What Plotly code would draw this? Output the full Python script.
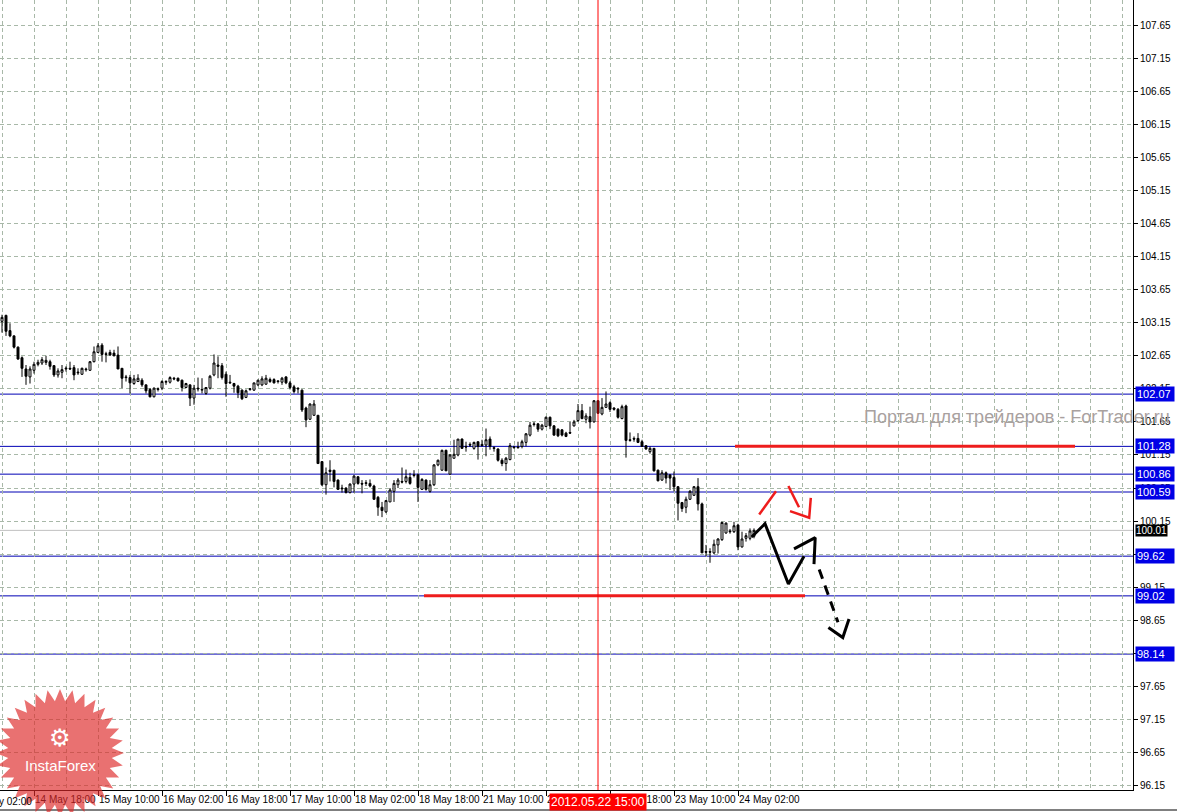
import numpy as np
import plotly.graph_objects as go

# hourly candles, index 0 = 14 May 10:00
open_ = [103.17, 103.26, 103.03, 102.95, 102.78, 102.62, 102.45, 102.33, 102.43, 102.52,
         102.54, 102.55, 102.56, 102.50, 102.36, 102.40, 102.45, 102.46, 102.47, 102.39,
         102.37, 102.45, 102.43, 102.56, 102.70, 102.81, 102.68, 102.70, 102.69, 102.66,
         102.46, 102.33, 102.32, 102.23, 102.26, 102.28, 102.21, 102.14, 102.03, 102.14,
         102.16, 102.25, 102.25, 102.31, 102.31, 102.28, 102.17, 102.21, 102.01, 102.16,
         102.13, 102.08, 102.16, 102.36, 102.51, 102.50, 102.37, 102.25, 102.23, 102.19,
         102.13, 102.02, 102.14, 102.13, 102.21, 102.21, 102.22, 102.29, 102.29, 102.27,
         102.25, 102.33, 102.24, 102.18, 102.16, 102.13, 101.86, 101.69, 101.75, 101.75,
         101.05, 100.70, 100.92, 100.92, 100.77, 100.65, 100.65, 100.58, 100.71, 100.82,
         100.72, 100.73, 100.72, 100.68, 100.51, 100.36, 100.29, 100.44, 100.60, 100.70,
         100.75, 100.75, 100.81, 100.85, 100.85, 100.63, 100.77, 100.60, 100.70, 101.00,
         100.92, 101.22, 100.86, 101.10, 101.15, 101.39, 101.28, 101.31, 101.25, 101.35,
         101.31, 101.30, 101.39, 101.26, 101.24, 101.07, 101.02, 101.08, 101.27, 101.27,
         101.28, 101.34, 101.45, 101.62, 101.62, 101.54, 101.58, 101.72, 101.59, 101.54,
         101.53, 101.48, 101.49, 101.59, 101.67, 101.82, 101.69, 101.73, 101.65, 101.97,
         101.77, 101.87, 101.94, 101.86, 101.84, 101.70, 101.89, 101.38, 101.40, 101.40,
         101.35, 101.29, 101.20, 101.25, 100.92, 100.77, 100.88, 100.85, 100.81, 100.67,
         100.43, 100.36, 100.48, 100.54, 100.67, 100.41, 99.69, 99.69, 99.67, 99.79,
         99.87, 99.97, 100.00, 99.99, 100.09, 99.76, 99.89, 99.89, 99.92]
high = [103.27, 103.27, 103.14, 102.96, 102.79, 102.64, 102.51, 102.49, 102.56, 102.59,
        102.63, 102.65, 102.59, 102.51, 102.46, 102.51, 102.49, 102.56, 102.51, 102.46,
        102.47, 102.47, 102.57, 102.79, 102.84, 102.84, 102.71, 102.74, 102.74, 102.79,
        102.46, 102.36, 102.36, 102.36, 102.37, 102.31, 102.21, 102.16, 102.17, 102.17,
        102.28, 102.28, 102.34, 102.33, 102.32, 102.29, 102.24, 102.21, 102.21, 102.32,
        102.31, 102.17, 102.36, 102.67, 102.64, 102.54, 102.41, 102.36, 102.24, 102.21,
        102.14, 102.14, 102.16, 102.24, 102.29, 102.34, 102.36, 102.32, 102.31, 102.28,
        102.33, 102.34, 102.27, 102.21, 102.17, 102.14, 101.88, 101.93, 101.98, 101.75,
        101.05, 100.96, 101.07, 100.92, 100.78, 100.70, 100.66, 100.72, 100.85, 100.83,
        100.77, 100.77, 100.78, 100.70, 100.53, 100.44, 100.47, 100.65, 100.77, 100.80,
        100.96, 100.93, 100.88, 100.92, 100.87, 100.80, 100.78, 100.77, 101.01, 101.08,
        101.23, 101.23, 101.16, 101.38, 101.39, 101.40, 101.35, 101.34, 101.35, 101.35,
        101.38, 101.55, 101.43, 101.28, 101.25, 101.10, 101.12, 101.33, 101.29, 101.35,
        101.38, 101.48, 101.65, 101.65, 101.63, 101.62, 101.73, 101.73, 101.60, 101.55,
        101.54, 101.50, 101.65, 101.68, 101.92, 101.92, 101.78, 101.88, 101.98, 101.98,
        102.01, 102.11, 101.96, 101.87, 101.86, 101.91, 101.91, 101.49, 101.43, 101.48,
        101.38, 101.30, 101.28, 101.25, 100.93, 100.92, 100.90, 100.85, 100.90, 100.68,
        100.44, 100.52, 100.62, 100.68, 100.80, 100.43, 99.79, 99.74, 99.87, 99.89,
        100.14, 100.13, 100.03, 100.14, 100.11, 99.99, 99.97, 100.04, 100.04]
low = [103.00, 102.95, 102.93, 102.76, 102.59, 102.33, 102.21, 102.23, 102.38, 102.49,
       102.51, 102.51, 102.44, 102.33, 102.32, 102.31, 102.41, 102.44, 102.28, 102.36,
       102.36, 102.41, 102.42, 102.55, 102.69, 102.56, 102.55, 102.65, 102.64, 102.45,
       102.16, 102.26, 102.08, 102.21, 102.26, 102.18, 102.08, 102.02, 102.02, 102.11,
       102.13, 102.21, 102.23, 102.28, 102.26, 102.11, 102.16, 101.89, 101.91, 102.11,
       102.08, 102.06, 102.14, 102.34, 102.31, 102.29, 102.03, 102.23, 102.09, 102.01,
       101.98, 102.01, 102.12, 102.12, 102.19, 102.19, 102.21, 102.24, 102.23, 102.23,
       102.21, 102.22, 102.14, 102.08, 102.08, 101.80, 101.57, 101.68, 101.74, 101.02,
       100.68, 100.55, 100.75, 100.66, 100.62, 100.58, 100.57, 100.57, 100.58, 100.70,
       100.57, 100.68, 100.66, 100.47, 100.23, 100.21, 100.27, 100.44, 100.44, 100.65,
       100.72, 100.72, 100.70, 100.81, 100.44, 100.62, 100.61, 100.58, 100.68, 100.98,
       100.91, 100.91, 100.85, 101.10, 101.13, 101.24, 101.20, 101.27, 101.23, 101.08,
       101.28, 101.13, 101.23, 101.20, 101.05, 100.98, 100.91, 101.07, 101.25, 101.25,
       101.25, 101.28, 101.43, 101.58, 101.50, 101.52, 101.57, 101.54, 101.44, 101.42,
       101.43, 101.42, 101.48, 101.58, 101.65, 101.69, 101.63, 101.55, 101.64, 101.77,
       101.75, 101.86, 101.80, 101.82, 101.70, 101.69, 101.11, 101.35, 101.35, 101.33,
       101.27, 101.23, 101.17, 100.90, 100.75, 100.76, 100.72, 100.62, 100.60, 100.16,
       100.29, 100.27, 100.47, 100.53, 100.31, 99.67, 99.62, 99.52, 99.65, 99.66,
       99.85, 99.96, 99.96, 99.97, 99.71, 99.75, 99.84, 99.86, 99.89]
close = [103.23, 103.02, 102.95, 102.78, 102.60, 102.46, 102.34, 102.45, 102.52, 102.55,
         102.59, 102.58, 102.49, 102.36, 102.42, 102.44, 102.46, 102.45, 102.36, 102.40,
         102.46, 102.44, 102.56, 102.71, 102.80, 102.67, 102.67, 102.66, 102.65, 102.45,
         102.31, 102.32, 102.24, 102.30, 102.31, 102.21, 102.12, 102.03, 102.16, 102.15,
         102.26, 102.26, 102.32, 102.30, 102.27, 102.17, 102.23, 102.01, 102.16, 102.15,
         102.14, 102.17, 102.34, 102.54, 102.49, 102.32, 102.23, 102.24, 102.19, 102.09,
         102.00, 102.12, 102.15, 102.24, 102.28, 102.30, 102.31, 102.26, 102.24, 102.26,
         102.31, 102.24, 102.17, 102.11, 102.15, 101.83, 101.68, 101.92, 101.92, 101.02,
         100.70, 100.88, 100.90, 100.75, 100.63, 100.64, 100.58, 100.71, 100.83, 100.72,
         100.71, 100.72, 100.68, 100.48, 100.36, 100.31, 100.46, 100.62, 100.72, 100.77,
         100.74, 100.82, 100.72, 100.84, 100.66, 100.78, 100.63, 100.70, 101.00, 101.07,
         101.22, 100.91, 101.15, 101.16, 101.39, 101.25, 101.27, 101.30, 101.34, 101.28,
         101.29, 101.38, 101.28, 101.25, 101.07, 101.02, 101.10, 101.29, 101.26, 101.26,
         101.35, 101.47, 101.60, 101.61, 101.54, 101.60, 101.72, 101.59, 101.45, 101.44,
         101.45, 101.43, 101.48, 101.65, 101.82, 101.70, 101.74, 101.65, 101.97, 101.78,
         101.87, 101.92, 101.84, 101.84, 101.72, 101.88, 101.37, 101.37, 101.39, 101.34,
         101.28, 101.24, 101.25, 100.91, 100.76, 100.88, 100.80, 100.80, 100.67, 100.42,
         100.34, 100.48, 100.60, 100.67, 100.41, 99.67, 99.68, 99.68, 99.80, 99.88,
         100.13, 100.12, 99.99, 100.08, 99.76, 99.88, 99.93, 100.00, 100.01]
bars = list(range(len(close)))

tick_idx = [8, 24, 40, 56, 72, 88, 104, 120, 136, 152, 168, 184]
tick_text = ["14 May 18:00", "15 May 10:00", "16 May 02:00", "16 May 18:00",
             "17 May 10:00", "18 May 02:00", "18 May 18:00", "21 May 10:00",
             "22 May 02:00", "22 May 18:00", "23 May 10:00", "24 May 02:00"]
price_ticks = [96.15, 96.65, 97.15, 97.65, 98.15, 98.65, 99.15, 99.65, 100.15, 100.65,
               101.15, 101.65, 102.15, 102.65, 103.15, 103.65, 104.15, 104.65, 105.15,
               105.65, 106.15, 106.65, 107.15, 107.65]

levels = [102.07, 101.28, 100.86, 100.59, 99.62, 99.02, 98.14]
last_price = 100.01
cursor_bar = 149
cursor_label = "2012.05.22 15:00"

# hand drawn forecast lines (bar index, price)
red_top_x, red_top_y = [183.25, 268.25], [101.28, 101.28]
red_bot_x, red_bot_y = [105.5, 200.75], [99.02, 99.02]
red_up_x, red_up_y = [189.3, 193.5], [100.25, 100.60]
red_down_x, red_down_y = [196.6, 199.25], [100.68, 100.36]
red_head_x, red_head_y = [197.0, 201.8, 202.2], [100.30, 100.20, 100.50]
blk_path_x = [187.4, 190.75, 196.6, 200.5]
blk_path_y = [99.91, 100.11, 99.20, 99.62]
blk_head_x, blk_head_y = [198.0, 203.3, 203.0], [99.73, 99.90, 99.50]
blk_dash_x, blk_dash_y = [204.3, 209.0], [99.42, 98.62]
blk_head2_x, blk_head2_y = [206.6, 210.2, 211.75], [98.54, 98.39, 98.67]

PW, PH = 1133, 790
x_rng = [-0.5, 282.75]
y_rng = [96.085, 108.028]
grid_col = "#a8b8a8"

fig = go.Figure()

fig.add_trace(go.Candlestick(
    x=bars, open=open_, high=high, low=low, close=close,
    increasing=dict(line=dict(color="black", width=1), fillcolor="white"),
    decreasing=dict(line=dict(color="black", width=1), fillcolor="black"),
    whiskerwidth=0, hoverinfo="skip", showlegend=False
))

def seg(xs, ys, color, dash="solid", width=3):
    fig.add_trace(go.Scatter(x=xs, y=ys, mode="lines", showlegend=False, hoverinfo="skip",
                             line=dict(color=color, width=width, dash=dash)))

seg(red_top_x, red_top_y, "#ee1c1c")
seg(red_bot_x, red_bot_y, "#ee1c1c")
seg(red_up_x, red_up_y, "#ee1c1c", width=2.5)
seg(red_down_x, red_down_y, "#ee1c1c", width=2.5)
seg(red_head_x, red_head_y, "#ee1c1c", width=2.5)
seg(blk_path_x, blk_path_y, "black")
seg(blk_head_x, blk_head_y, "black")
seg(blk_dash_x, blk_dash_y, "black", dash="10px,7px")
seg(blk_head2_x, blk_head2_y, "black")

shapes = []
for lv in levels:
    shapes.append(dict(type="line", xref="paper", x0=0, x1=1, yref="y", y0=lv, y1=lv,
                       line=dict(color="#0000b4", width=1), layer="below"))
shapes.append(dict(type="line", xref="paper", x0=0, x1=1, yref="y", y0=last_price, y1=last_price,
                   line=dict(color="#c0c0c0", width=1), layer="below"))
shapes.append(dict(type="line", xref="x", x0=cursor_bar, x1=cursor_bar, yref="paper", y0=0, y1=1,
                   line=dict(color="red", width=1)))
shapes.append(dict(type="line", xref="paper", x0=0, x1=1177 / PW, yref="paper",
                   y0=-20 / PH, y1=-20 / PH, line=dict(color="black", width=1)))

# InstaForex starburst logo (pixel geometry -> paper)
cx, cy, r_out, r_in, n = 60, 753, 64, 52, 32
ang = np.linspace(0, 2 * np.pi, 2 * n, endpoint=False) - np.pi / 2
rad = np.where(np.arange(2 * n) % 2 == 0, r_out, r_in)
px = cx + rad * np.cos(ang)
py = cy + rad * np.sin(ang)
path = "M " + " L ".join(f"{a / PW:.5f},{1 - b / PH:.5f}" for a, b in zip(px, py)) + " Z"
shapes.append(dict(type="path", xref="paper", yref="paper", path=path,
                   fillcolor="rgba(222,40,40,0.66)", line=dict(width=0)))

annotations = []
for lv in levels:
    annotations.append(dict(xref="paper", x=1, xanchor="left", xshift=2, yref="y", y=lv,
                            text=f"{lv:.2f}", showarrow=False, bgcolor="#0000e6",
                            font=dict(color="white", size=11, family="Liberation Sans"),
                            borderpad=1, width=36, align="left"))
annotations.append(dict(xref="paper", x=1, xanchor="left", xshift=2, yref="y", y=last_price,
                        text=f"{last_price:.2f}", showarrow=False, bgcolor="black",
                        font=dict(color="white", size=10, family="Liberation Sans"), borderpad=0))
annotations.append(dict(xref="x", x=cursor_bar, xanchor="center", yref="paper", y=0, yanchor="top",
                        yshift=-3, text=cursor_label, showarrow=False, bgcolor="#ff0000",
                        font=dict(color="white", size=12, family="Liberation Sans"), borderpad=1))
annotations.append(dict(xref="paper", x=0, xanchor="left", xshift=-3, yref="paper", y=0,
                        yanchor="top", yshift=-4, text="y 02:00", showarrow=False,
                        font=dict(color="black", size=10, family="Liberation Sans")))
annotations.append(dict(xref="paper", x=862 / PW, xanchor="left", yref="paper", y=1 - 417 / PH,
                        yanchor="middle", text="Портал для трейдеров - ForTrader.ru",
                        showarrow=False, font=dict(color="#a9a19f", size=18, family="Liberation Sans")))
annotations.append(dict(xref="paper", x=cx / PW, xanchor="center", yref="paper", y=1 - 738 / PH,
                        yanchor="middle", text="⚙", showarrow=False,
                        font=dict(color="white", size=24, family="DejaVu Sans")))
annotations.append(dict(xref="paper", x=cx / PW, xanchor="center", yref="paper", y=1 - 765 / PH,
                        yanchor="middle", text="InstaForex", showarrow=False,
                        font=dict(color="white", size=15, family="Liberation Sans")))

fig.update_layout(
    width=1177, height=812,
    margin=dict(l=0, r=44, t=0, b=22, autoexpand=False),
    paper_bgcolor="white", plot_bgcolor="white",
    font=dict(family="Liberation Sans", size=10, color="black"),
    showlegend=False,
    shapes=shapes, annotations=annotations,
    xaxis=dict(range=x_rng, rangeslider=dict(visible=False), automargin=False,
               tickmode="array", tickvals=tick_idx, ticktext=tick_text, tickangle=0,
               ticks="outside", ticklen=5, tickcolor="black",
               ticklabelposition="outside right", tickfont=dict(size=10),
               showline=True, linecolor="black", linewidth=1,
               showgrid=True, gridcolor=grid_col, griddash="4px,3px", gridwidth=1,
               minor=dict(tick0=0, dtick=8, showgrid=True, gridcolor=grid_col,
                          griddash="4px,3px", ticks=""),
               zeroline=False, fixedrange=True),
    yaxis=dict(range=y_rng, side="right", tickmode="array", tickvals=price_ticks,
               automargin=False, tickformat=".2f", ticks="outside", ticklen=4,
               tickcolor="black", tickfont=dict(size=10), showline=True,
               linecolor="black", linewidth=1,
               showgrid=True, gridcolor=grid_col, griddash="4px,3px", gridwidth=1,
               zeroline=False, fixedrange=True),
)

fig.write_html("out.html", post_script="document.body.style.margin='0';",
               config={"displayModeBar": False})
